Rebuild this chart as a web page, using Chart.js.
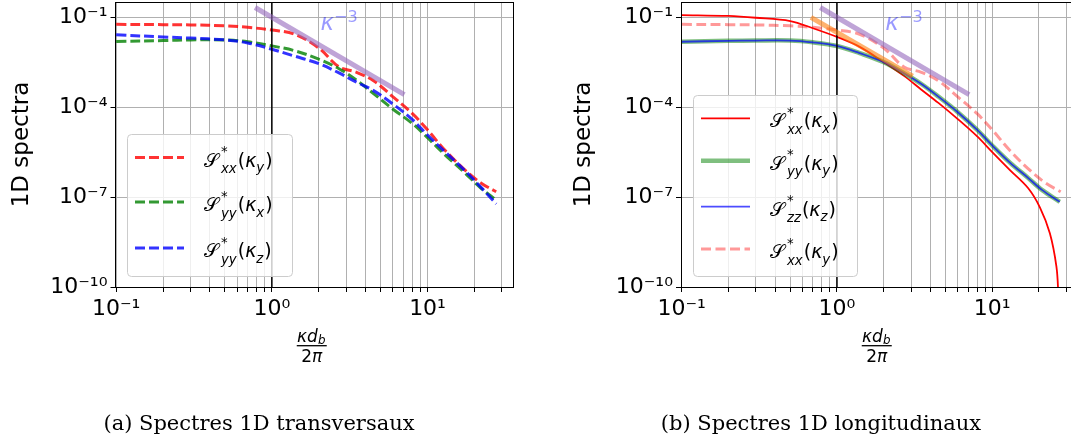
<!DOCTYPE html>
<html>
<head>
<meta charset="utf-8">
<script src="https://cdn.jsdelivr.net/npm/chart.js@4.4.1/dist/chart.umd.min.js"></script>
<style>
  html, body { margin: 0; padding: 0; background: #fff; }
  body { width: 1071px; height: 441px; position: relative; overflow: hidden; }
  canvas { position: absolute; top: 0; }
  #cA { left: 0; }
  #cB { left: 540px; }
  .caption {
    position: absolute; top: 413px; width: 400px;
    font-family: "DejaVu Serif", serif; font-size: 21px; line-height: 1;
    text-align: center; white-space: nowrap; color: #000;
  }
  #capA { left: 59px; }
  #capB { left: 621px; }
</style>
</head>
<body>
<canvas id="cA" width="530" height="441"></canvas>
<canvas id="cB" width="545" height="441"></canvas>
<div class="caption" id="capA">(a) Spectres 1D transversaux</div>
<div class="caption" id="capB">(b) Spectres 1D longitudinaux</div>
<script>
// ---- data ----
const kappa = [0.1, 0.2, 0.3, 0.5, 0.7, 1.0, 1.4, 2.0, 2.7, 3.5, 4.5, 6, 8, 10, 13, 17, 22, 27.6];
// (a) transverse spectra
const sxxKy = [0.0575, 0.0562, 0.0550, 0.0513, 0.0457, 0.0372, 0.0269, 9.33e-3, 2.19e-3, 1.45e-3, 7.59e-4,
               2.19e-4, 6.03e-5, 1.74e-5, 3.55e-6, 8.91e-7, 2.95e-7, 1.51e-7];
const syyKx = [0.0155, 0.0166, 0.0174, 0.0174, 0.0151, 0.0110, 7.59e-3, 3.98e-3, 1.91e-3, 7.94e-4, 2.82e-4,
               8.51e-5, 2.82e-5, 9.55e-6, 2.51e-6, 7.08e-7, 2.0e-7, 7.94e-8];
const syyKz = [0.0257, 0.0219, 0.0200, 0.0174, 0.0138, 8.51e-3, 5.01e-3, 2.82e-3, 1.38e-3, 6.76e-4, 3.55e-4,
               1.26e-4, 3.80e-5, 1.17e-5, 3.16e-6, 8.51e-7, 2.14e-7, 5.89e-8];

// (b) longitudinal spectra
const kappaX = [0.1, 0.2, 0.3, 0.5, 0.7, 1.0, 1.4, 2.0, 2.7, 3.5, 4.5, 6, 8, 10, 13, 17, 20.3, 23.5, 25.9, 26.6, 27];
const sxxKx = [0.1175, 0.1096, 0.0955, 0.0741, 0.0427, 0.0219, 0.01023, 3.16e-3, 1.10e-3, 3.80e-4, 1.38e-4,
               3.98e-5, 1.05e-5, 3.16e-6, 7.94e-7, 2.0e-7, 4.47e-8, 6.17e-9, 4.79e-10, 6.3e-11, 3.2e-12];
const kappaYZ = [0.1, 0.2, 0.3, 0.5, 0.7, 1.0, 1.4, 2.0, 2.7, 3.5, 4.5, 6, 8, 10, 13, 17, 21, 27.2];
const syyKy = [0.01514, 0.01622, 0.0166, 0.0166, 0.01445, 0.01096, 6.31e-3, 3.16e-3, 1.35e-3, 5.89e-4, 2.24e-4,
               6.76e-5, 1.74e-5, 5.25e-6, 1.41e-6, 4.37e-7, 1.70e-7, 6.92e-8];
const szzKz = [0.01514, 0.01622, 0.0166, 0.0166, 0.01445, 0.01096, 6.31e-3, 3.16e-3, 1.35e-3, 5.89e-4, 2.24e-4,
               6.76e-5, 1.74e-5, 5.25e-6, 1.41e-6, 4.37e-7, 1.70e-7, 6.92e-8];

// reference slopes
const slopeX = [0.78, 7.1];
const slopeY = [0.21, 2.6e-4];
const orangeX = [0.68, 3.07];
const orangeY = [0.098, 1.07e-3];
const unitX = [1, 1];
const unitY = [1e-12, 10];

// ticks
const xTicks = [0.1, 0.2, 0.3, 0.4, 0.5, 0.6, 0.7, 0.8, 0.9, 1, 2, 3, 4, 5, 6, 7, 8, 9, 10, 20, 30];
const xMajor = [0.1, 1, 10];
const xMajorLabels = ['10⁻¹', '10⁰', '10¹'];
const yTicks = [1e-10, 1e-7, 1e-4, 1e-1];
const yTickLabels = ['10⁻¹⁰', '10⁻⁷', '10⁻⁴', '10⁻¹'];

// ---- helpers ----
const FONT = '"DejaVu Sans", "DejaVu Serif", "Noto Sans", sans-serif';

function pts(xs, ys) {
    return xs.map((x, i) => ({ x: x, y: ys[i] }));
}

// draws a small piece of math: plain runs, and sup/sub stacks
function drawMath(ctx, x, y, parts, size, color, measureOnly) {
    ctx.save();
    if (color) ctx.fillStyle = color;
    ctx.textBaseline = "alphabetic";
    ctx.textAlign = "left";
    let cx = x;
    for (const p of parts) {
        if (p.t) {
            ctx.font = (p.it ? "italic " : "") + size + "px " + FONT;
            const m = ctx.measureText(p.t);
            // keep glyphs that hang to the left inside their slot
            const lead = p.ink ? Math.max(0, m.actualBoundingBoxLeft) : 0;
            if (!measureOnly) ctx.fillText(p.t, cx + lead, y);
            cx += lead + (p.ink ? Math.max(m.width, m.actualBoundingBoxRight) : m.width);
        } else {
            const s = size * 0.7;
            let w = 0;
            if (p.sup) {
                ctx.font = s + "px " + FONT;
                if (!measureOnly) ctx.fillText(p.sup, cx, y - size * (p.up ?? 0.4));
                w = Math.max(w, ctx.measureText(p.sup).width);
            }
            if (p.sub) {
                ctx.font = "italic " + s + "px " + FONT;
                if (!measureOnly) ctx.fillText(p.sub, cx, y + size * (p.dn ?? 0.3));
                w = Math.max(w, ctx.measureText(p.sub).width);
            }
            cx += w + 1;
        }
    }
    ctx.restore();
    return cx - x;
}

function specLabel(comp, k) {
    return [{ t: "𝒮", ink: true }, { sup: "*", sub: comp, up: 0.55, dn: 0.35 }, { t: "(" }, { t: "κ", it: true },
            { sub: k, dn: 0.3 }, { t: ")" }];
}

function overlay(conf) {
    return {
        id: "overlay",
        afterDatasetsDraw(chart) {
            const { ctx, chartArea: a } = chart;
            ctx.save();
            ctx.strokeStyle = "#000";
            ctx.lineWidth = 1;
            const l = Math.floor(a.left) + 0.5, t = Math.floor(a.top) + 0.5;
            const r = Math.floor(a.right) + 0.5, b = Math.floor(a.bottom) + 0.5;
            ctx.strokeRect(l, t, r - l, b - t);
            ctx.restore();
        },
        afterDraw(chart) {
            const { ctx, chartArea: a, scales } = chart;

            // kappa^-3 annotation
            const ax = scales.x.getPixelForValue(2.05);
            const ay = scales.y.getPixelForValue(0.0372);
            drawMath(ctx, ax, ay, [{ t: "κ", it: true }, { sup: "−3", up: 0.36 }], 23, "rgba(0,0,255,0.4)");

            // x axis label as a fraction
            const cx = (a.left + a.right) / 2 - 2.5;
            const num = [{ t: "κd", it: true }, { sub: "b", dn: 0.15 }];
            const den = [{ t: "2" }, { t: "π", it: true }];
            const wn = drawMath(ctx, 0, 0, num, 17, null, true);
            const wd = drawMath(ctx, 0, 0, den, 17, null, true);
            drawMath(ctx, cx - wn / 2, 341.5, num, 17, "#000");
            drawMath(ctx, cx - wd / 2, 361.5, den, 17, "#000");
            ctx.save();
            ctx.strokeStyle = "#000";
            ctx.lineWidth = 1.3;
            ctx.beginPath();
            ctx.moveTo(cx - 15, 345.7);
            ctx.lineTo(cx + 15, 345.7);
            ctx.stroke();
            ctx.restore();

            // legend box
            const L = conf.legend;
            ctx.save();
            ctx.beginPath();
            ctx.roundRect(L.x + 0.5, L.y + 0.5, L.w, L.h, 4);
            ctx.fillStyle = "rgba(255,255,255,0.8)";
            ctx.fill();
            ctx.strokeStyle = "#cccccc";
            ctx.lineWidth = 1;
            ctx.stroke();
            ctx.restore();
            L.items.forEach((it) => {
                ctx.save();
                ctx.strokeStyle = it.color;
                ctx.lineWidth = it.width;
                ctx.setLineDash(it.dash);
                ctx.beginPath();
                ctx.moveTo(L.x + 8, it.y);
                ctx.lineTo(L.x + 57, it.y);
                ctx.stroke();
                ctx.restore();
                drawMath(ctx, L.x + 77, it.y + 9, it.label, 19, "#000");
            });
        },
    };
}

function scalesFor(yAxisWidth, yTitlePad) {
    const tickFont = { family: "DejaVu Sans", size: 22 };
    return {
        x: {
            type: "logarithmic",
            min: 0.099,
            max: 35.4,
            afterBuildTicks: (s) => {
                s.ticks = xTicks.map((v) => ({ value: v }));
            },
            afterFit: (s) => {
                s.height = 154;
                s.paddingLeft = 0;
                s.paddingRight = 0;
            },
            ticks: {
                autoSkip: false,
                maxRotation: 0,
                padding: 4,
                color: "#000",
                font: tickFont,
                callback: (v) => {
                    const i = xMajor.indexOf(v);
                    return i >= 0 ? xMajorLabels[i] : "";
                },
            },
            grid: { color: "#b0b0b0", lineWidth: 1, tickLength: 5, tickColor: "#000" },
            border: { color: "#000", width: 1 },
        },
        y: {
            type: "logarithmic",
            min: 1e-10,
            max: 0.32,
            afterBuildTicks: (s) => {
                s.ticks = yTicks.map((v) => ({ value: v }));
            },
            afterFit: (s) => {
                s.width = yAxisWidth;
                s.paddingTop = 0;
                s.paddingBottom = 0;
            },
            ticks: {
                padding: 3,
                color: "#000",
                font: tickFont,
                callback: (v) => yTickLabels[yTicks.indexOf(v)],
            },
            grid: { color: "#b0b0b0", lineWidth: 1, tickLength: 5, tickColor: "#000" },
            border: { color: "#000", width: 1 },
            title: {
                display: true,
                text: "1D spectra",
                color: "#000",
                font: { family: "DejaVu Sans", size: 23 },
                padding: { top: yTitlePad, bottom: 0 },
            },
        },
    };
}

function curve(label, xs, ys, color, width, dash, order) {
    return {
        label,
        data: pts(xs, ys),
        showLine: true,
        borderColor: color,
        borderWidth: width,
        borderDash: dash,
        pointRadius: 0,
        tension: 0.35,
        clip: 0,
        order,
    };
}

function straight(label, xs, ys, color, width, order) {
    return {
        label,
        data: pts(xs, ys),
        showLine: true,
        borderColor: color,
        borderWidth: width,
        pointRadius: 0,
        tension: 0,
        clip: 0,
        order,
    };
}

const baseOptions = {
    responsive: false,
    animation: false,
    devicePixelRatio: 1,
    plugins: { legend: { display: false }, tooltip: { enabled: false } },
};

// ---- (a) ----
new Chart(document.getElementById("cA").getContext("2d"), {
    type: "scatter",
    data: {
        datasets: [
            straight("k^-3", slopeX, slopeY, "rgba(148,103,189,0.6)", 5, 0),
            straight("x=1", unitX, unitY, "#000", 1.5, 1),
            curve("Syy(kz)", kappa, syyKz, "rgba(0,0,255,0.8)", 3, [10, 4], 2),
            curve("Syy(kx)", kappa, syyKx, "rgba(0,128,0,0.8)", 3, [10, 4], 3),
            curve("Sxx(ky)", kappa, sxxKy, "rgba(255,0,0,0.8)", 3, [10, 4], 4),
        ],
    },
    options: Object.assign({}, baseOptions, {
        layout: { padding: { left: 0, right: 17, top: 2, bottom: 0 } },
        scales: scalesFor(115.5, 8),
    }),
    plugins: [
        overlay({
            legend: {
                x: 127, y: 134, w: 165, h: 142,
                items: [
                    { y: 157.5, color: "rgba(255,0,0,0.8)", width: 3, dash: [10, 4], label: specLabel("xx", "y") },
                    { y: 202, color: "rgba(0,128,0,0.8)", width: 3, dash: [10, 4], label: specLabel("yy", "x") },
                    { y: 248, color: "rgba(0,0,255,0.8)", width: 3, dash: [10, 4], label: specLabel("yy", "z") },
                ],
            },
        }),
    ],
});

// ---- (b) ----
new Chart(document.getElementById("cB").getContext("2d"), {
    type: "scatter",
    data: {
        datasets: [
            straight("k^-3", slopeX, slopeY, "rgba(148,103,189,0.6)", 5, 0),
            straight("fit", orangeX, orangeY, "rgba(255,127,14,0.6)", 5, 1),
            straight("x=1", unitX, unitY, "#000", 1.5, 2),
            curve("Sxx(ky)", kappa, sxxKy, "rgba(255,0,0,0.4)", 3, [10, 4.5], 3),
            curve("Szz(kz)", kappaYZ, szzKz, "rgba(0,0,255,0.7)", 1.8, [], 4),
            curve("Syy(ky)", kappaYZ, syyKy, "rgba(0,128,0,0.5)", 4.5, [], 5),
            curve("Sxx(kx)", kappaX, sxxKx, "#ff0000", 1.8, [], 6),
        ],
    },
    options: Object.assign({}, baseOptions, {
        layout: { padding: { left: 0, right: 7.5, top: 2, bottom: 0 } },
        scales: scalesFor(141, 30.5),
    }),
    plugins: [
        overlay({
            legend: {
                x: 153, y: 95, w: 164, h: 181,
                items: [
                    { y: 118.3, color: "#ff0000", width: 1.8, dash: [], label: specLabel("xx", "x") },
                    { y: 160.7, color: "rgba(0,128,0,0.5)", width: 4.5, dash: [], label: specLabel("yy", "y") },
                    { y: 206.7, color: "rgba(0,0,255,0.7)", width: 1.8, dash: [], label: specLabel("zz", "z") },
                    { y: 249, color: "rgba(255,0,0,0.4)", width: 3, dash: [10, 4.5], label: specLabel("xx", "y") },
                ],
            },
        }),
    ],
});
</script>
</body>
</html>
